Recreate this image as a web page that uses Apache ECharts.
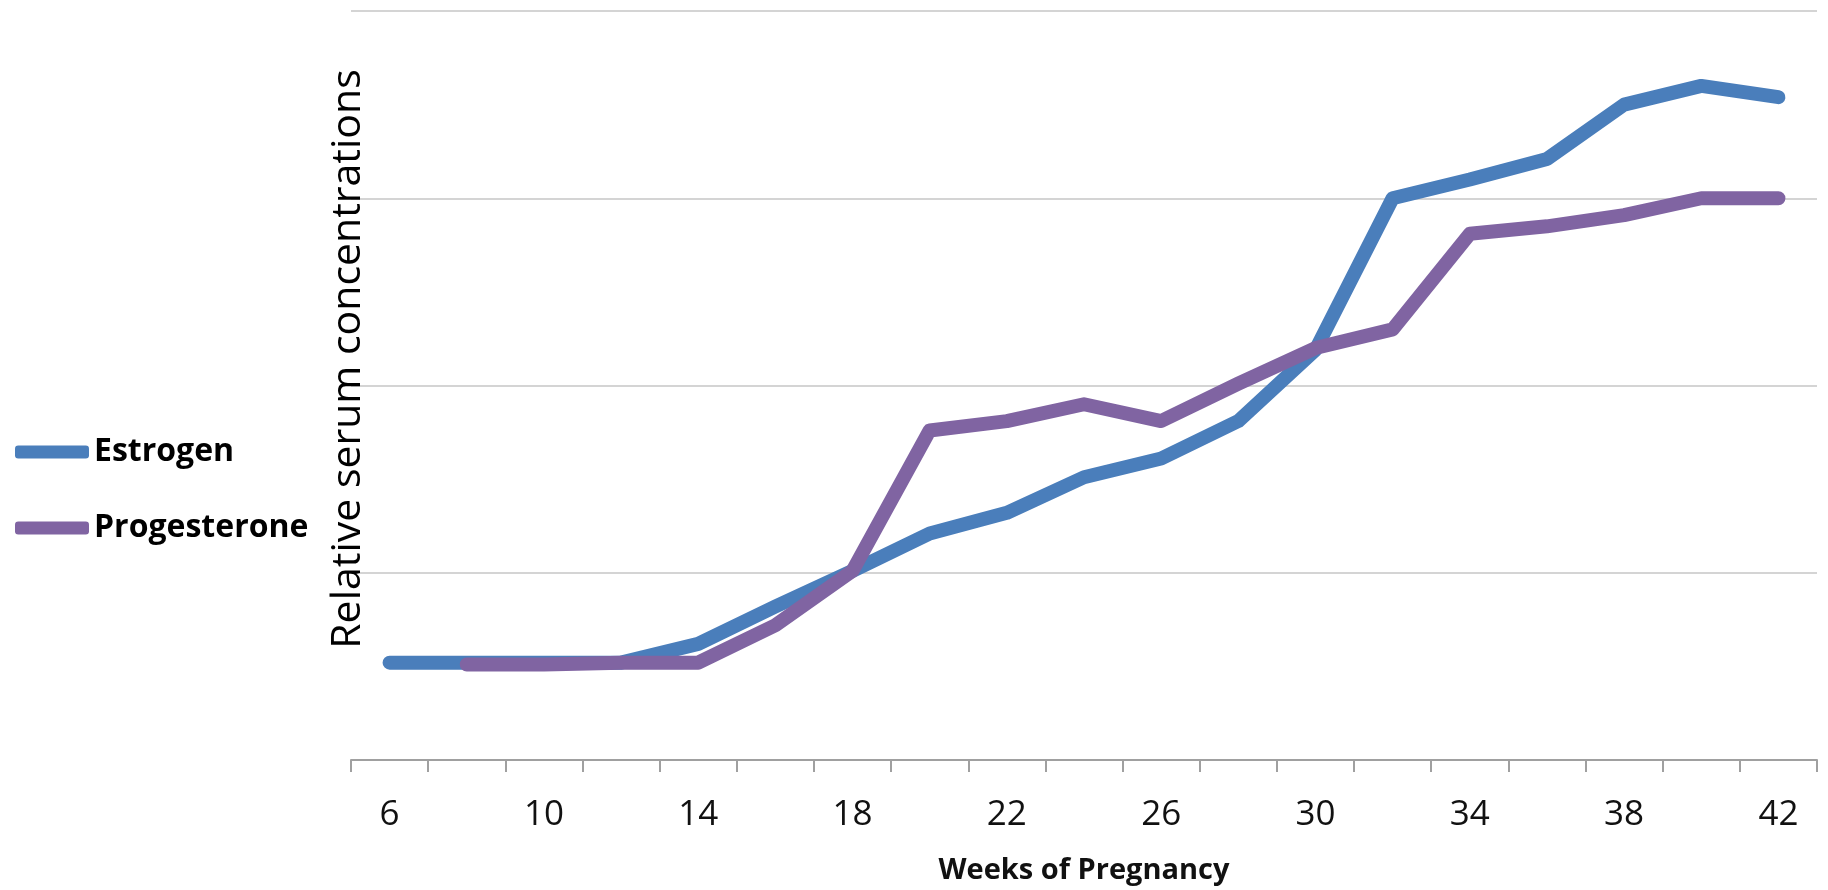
<!DOCTYPE html>
<html>
<head>
<meta charset="utf-8">
<script src="https://cdn.jsdelivr.net/npm/echarts@6/dist/echarts.min.js"></script>
<style>
  html, body { margin: 0; padding: 0; background: #fff; }
  #chart { width: 1828px; height: 890px; }
</style>
</head>
<body>
<div id="chart"></div>
<script>
const weeks = ['6','8','10','12','14','16','18','20','22','24','26','28','30','32','34','36','38','40','42'];
const estrogen = [0.52, 0.52, 0.52, 0.52, 0.62, 0.82, 1.01, 1.21, 1.32, 1.51, 1.61, 1.81, 2.19, 3.0, 3.10, 3.21, 3.50, 3.60, 3.54];
const progesterone = [null, 0.51, 0.51, 0.52, 0.52, 0.72, 1.01, 1.76, 1.81, 1.90, 1.81, 2.01, 2.20, 2.30, 2.81, 2.85, 2.91, 3.0, 3.0];
const seriesNames = ['Estrogen', 'Progesterone'];
const xTitle = 'Weeks of Pregnancy';
const yTitle = 'Relative serum concentrations';

const chart = echarts.init(document.getElementById('chart'), null, { renderer: 'canvas' });
const lineCommon = { type: 'line', showSymbol: false, symbol: 'none', smooth: false, z: 3 };
chart.setOption({
  animation: false,
  backgroundColor: '#ffffff',
  grid: { left: 351, right: 11, top: 11, bottom: 129, containLabel: false },
  legend: {
    orient: 'vertical',
    left: 10,
    top: 431,
    icon: 'roundRect',
    itemWidth: 74,
    itemHeight: 13,
    itemGap: 44,
    textStyle: { fontFamily: 'Open Sans', fontWeight: 'bold', fontSize: 32, color: '#000' },
    data: seriesNames
  },
  xAxis: {
    type: 'category',
    data: weeks,
    boundaryGap: true,
    axisLine: { lineStyle: { color: '#a0a0a0', width: 2 } },
    axisTick: { show: true, interval: 0, length: 12, lineStyle: { color: '#a0a0a0', width: 2 } },
    axisLabel: { interval: 1, margin: 38, fontFamily: 'Open Sans', fontSize: 35, color: '#111' },
    splitLine: { show: false },
    name: xTitle,
    nameLocation: 'middle',
    nameGap: 96,
    nameTextStyle: { fontFamily: 'Open Sans', fontWeight: 'bold', fontSize: 29, color: '#111' }
  },
  yAxis: {
    type: 'value',
    min: 0,
    max: 4,
    interval: 1,
    axisLine: { show: false },
    axisTick: { show: false },
    axisLabel: { show: false },
    splitLine: { show: true, lineStyle: { color: '#d4d4d4', width: 2 } }
  },
  graphic: [{
    type: 'text',
    x: 348,
    y: 359,
    rotation: Math.PI / 2,
    z: 10,
    style: {
      text: yTitle,
      font: '41px "Open Sans"',
      fill: '#000',
      textAlign: 'center',
      textVerticalAlign: 'middle'
    }
  }],
  series: [
    Object.assign({}, lineCommon, {
      name: seriesNames[0],
      data: estrogen,
      itemStyle: { color: '#4a7ebb' },
      lineStyle: { color: '#4a7ebb', width: 14, cap: 'round', join: 'round' }
    }),
    Object.assign({}, lineCommon, {
      name: seriesNames[1],
      data: progesterone,
      itemStyle: { color: '#8064a2' },
      lineStyle: { color: '#8064a2', width: 14, cap: 'round', join: 'round' }
    })
  ]
});
</script>
</body>
</html>
